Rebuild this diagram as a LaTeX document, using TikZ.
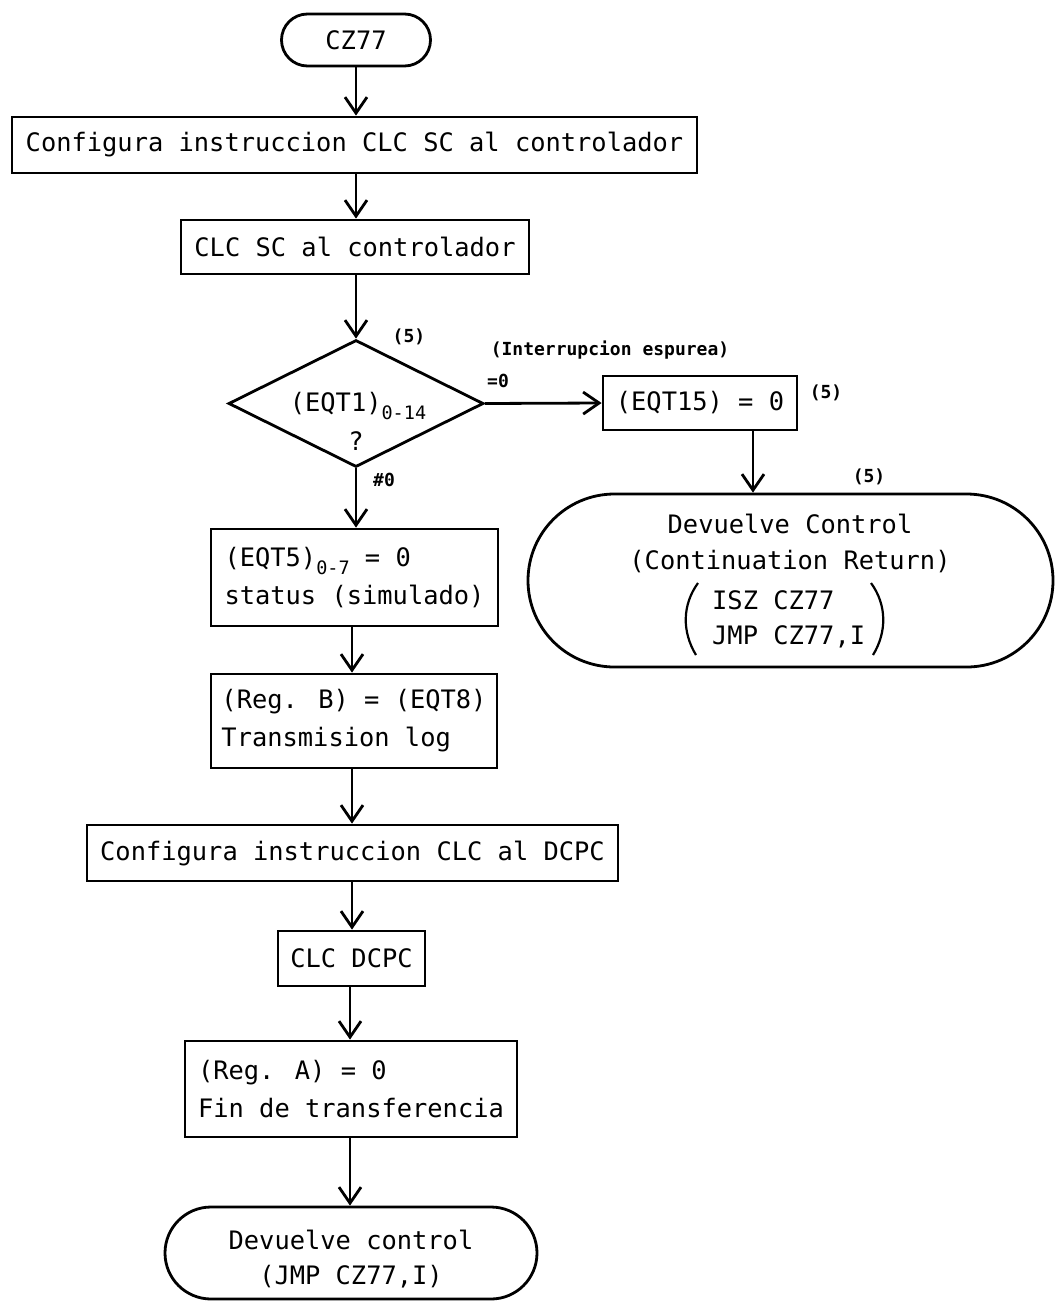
\documentclass[tikz,border=0pt]{standalone}
\usepackage{fontspec}
\setmainfont{DejaVu Sans Mono}
\usetikzlibrary{arrows.meta,shapes.geometric,shapes.misc}
\newcommand{\labfont}{\fontsize{18}{20}\selectfont\bfseries}
\newcommand{\subfont}{\fontsize{18.5}{20}\selectfont}
\tikzset{
  every node/.style={font=\fontsize{25.4}{38}\selectfont},
  flow/.style={line width=2.8pt, draw=black},
  arr/.style={flow, -{Straight Barb[length=16pt,width=22pt,line width=2.8pt]}},
  procbox/.style={flow, rectangle, inner sep=0pt, align=left},
  termbox/.style={flow, rounded rectangle, inner sep=0pt, align=center},
  decbox/.style={flow, diamond, inner sep=0pt},
  lab/.style={font=\labfont, inner sep=0pt},
}
\begin{document}
\begin{tikzpicture}[x=1pt,y=-1pt]
\useasboundingbox[fill=white] (0,0) rectangle (1063,1301);

% main column
\node[termbox, minimum width=149, minimum height=52] (start) at (356,40) {CZ77};
\node[procbox, minimum width=685, minimum height=56] (cfg1) at (354.5,145) {Configura instruccion CLC SC al controlador};
\node[procbox, minimum width=348, minimum height=54] (clcsc) at (355,247) {CLC SC al controlador};
\node[decbox, minimum width=255, minimum height=127] (dec) at (356,403.5) {};
\node (dectxt) at (358,406) {(EQT1)\raisebox{-8pt}{\subfont 0-14}};
\node (decq) at (356,441) {?};
\node[procbox, minimum width=287, minimum height=97] (st5) at (354.5,577.5) {(EQT5)\raisebox{-8pt}{\subfont 0-7} = 0\\status (simulado)};
\node[procbox, minimum width=286, minimum height=94] (regb) at (354,721) {(Reg. B) = (EQT8)\\Transmision log};
\node[procbox, minimum width=531, minimum height=56] (cfg2) at (352.5,853) {Configura instruccion CLC al DCPC};
\node[procbox, minimum width=147, minimum height=55] (dcpc) at (351.5,958.5) {CLC DCPC};
\node[procbox, minimum width=332, minimum height=96] (rega) at (351,1089) {(Reg. A) = 0\\Fin de transferencia};
\node[termbox, minimum width=372, minimum height=92] (fin) at (351,1253) {};
\node (fin1) at (351,1240) {Devuelve control};
\node (fin2) at (351,1277) {(JMP CZ77,I)};

% right branch
\node[procbox, minimum width=194, minimum height=54] (eq15) at (700,403) {(EQT15) = 0};
\node[termbox, minimum width=525, minimum height=173] (ret) at (790.5,580.5) {};
\node (ret1) at (790,524) {Devuelve Control};
\node (ret2) at (790,562) {(Continuation Return)};
\node[anchor=west, inner sep=0pt] (ret3) at (712,600) {ISZ CZ77};
\node[anchor=west, inner sep=0pt] (ret4) at (712,637) {JMP CZ77,I};
\draw[flow, line width=2.2pt] (698,583) .. controls (682,605) and (682,632) .. (696,655);
\draw[flow, line width=2.2pt] (871,583) .. controls (887,605) and (887,632) .. (873,655);

% annotations
\node[lab] (n5a) at (409,337) {(5)};
\node[lab] (intr) at (610,350) {(Interrupcion espurea)};
\node[lab] (eq0) at (498,381) {=0};
\node[lab] (n5b) at (826,393) {(5)};
\node[lab] (n5c) at (869,477) {(5)};
\node[lab] (ne0) at (384,480) {\#0};

% exit points of the off-centre connectors
\coordinate (eqout) at (753,430);
\coordinate (s5out) at (352,626);
\coordinate (rbout) at (352,768);
\coordinate (c2out) at (352,881);
\coordinate (dcout) at (350,986);
\coordinate (raout) at (350,1137);

% connectors
\draw[arr] (start.south) -- (start.south |- cfg1.north);
\draw[arr] (start.south |- cfg1.south) -- (start.south |- clcsc.north);
\draw[arr] (start.south |- clcsc.south) -- (dec.north);
\draw[arr] (dec.east) -- (eq15.west);
\draw[arr] (eqout) -- (eqout |- ret.north);
\draw[arr] (dec.south) -- (dec.south |- st5.north);
\draw[arr] (s5out) -- (s5out |- regb.north);
\draw[arr] (rbout) -- (rbout |- cfg2.north);
\draw[arr] (c2out) -- (c2out |- dcpc.north);
\draw[arr] (dcout) -- (dcout |- rega.north);
\draw[arr] (raout) -- (raout |- fin.north);
\end{tikzpicture}
\end{document}
